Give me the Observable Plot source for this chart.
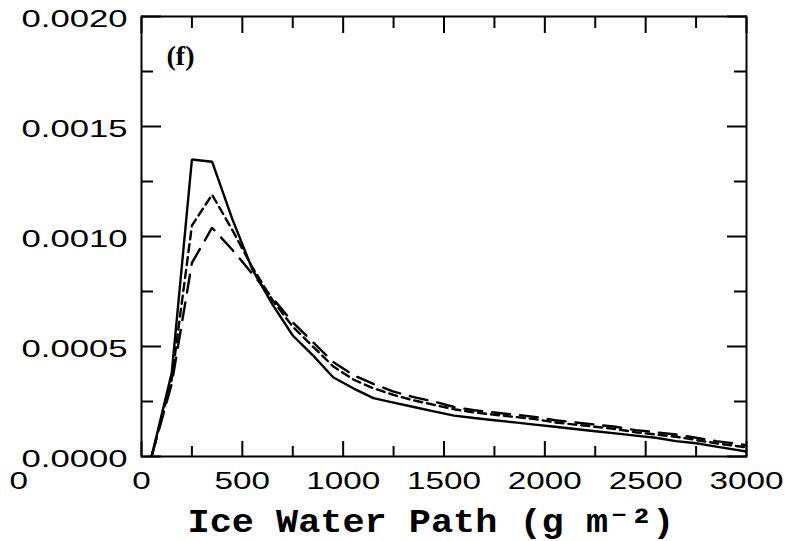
<!DOCTYPE html>
<html>
<head>
<meta charset="utf-8">
<script src="https://cdn.jsdelivr.net/npm/d3@7"></script>
<script src="https://cdn.jsdelivr.net/npm/@observablehq/plot@0.6"></script>
<style>
  html, body { margin: 0; padding: 0; background: #fff; }
</style>
</head>
<body>
<div id="chart"></div>
<script>
// Ice water path bin centres (g m^-2)
const iwp = [50, 150, 250, 350, 450, 550, 650, 750, 850, 950,
             1050, 1150, 1250, 1350, 1450, 1550, 1650, 1750, 1850, 1950,
             2050, 2150, 2250, 2350, 2450, 2550, 2650, 2750, 2850, 2950, 3050];

// Probability density for each case
const solidPdf = [0, 0.00038, 0.00135, 0.00134, 0.00108, 0.00085, 0.00069, 0.00055, 0.00046, 0.00036,
                  0.00031, 0.000265, 0.000245, 0.000225, 0.000205, 0.000186, 0.000175, 0.000165, 0.000155, 0.000145,
                  0.000135, 0.000125, 0.000115, 0.000105, 0.000095, 0.000085, 0.00007, 0.00006, 0.000045, 0.00003, 0.000015];
const shortDashPdf = [0, 0.00035, 0.00105, 0.00119, 0.00103, 0.00086, 0.00071, 0.00059, 0.0005, 0.00041,
                      0.00035, 0.00031, 0.00028, 0.000255, 0.000235, 0.000215, 0.0002, 0.00019, 0.00018, 0.00017,
                      0.000155, 0.000145, 0.000135, 0.000125, 0.00011, 0.0001, 0.00009, 0.000075, 0.00006, 0.000048, 0.000035];
const longDashPdf = [0, 0.00033, 0.00088, 0.00104, 0.00094, 0.00083, 0.00072, 0.00061, 0.00052, 0.00043,
                     0.00037, 0.00033, 0.000295, 0.00027, 0.00025, 0.000225, 0.00021, 0.0002, 0.00019, 0.00018,
                     0.000165, 0.000155, 0.000145, 0.000135, 0.00012, 0.00011, 0.0001, 0.000085, 0.00007, 0.000058, 0.000045];

// Tick positions
const xMajor = [0, 500, 1000, 1500, 2000, 2500, 3000];
const xMinor = [250, 750, 1250, 1750, 2250, 2750];
const yMajor = [0, 0.0005, 0.0010, 0.0015, 0.0020];
const yMinor = [0.00025, 0.00075, 0.00125, 0.00175];

const panelLabel = "(f)";
const xTitle = "Ice Water Path (g m⁻²)";

const series = [
  {values: solidPdf, dash: null},
  {values: shortDashPdf, dash: "8,5"},
  {values: longDashPdf, dash: "18,10"}
];

const lineMarks = series.map(s =>
  Plot.line(iwp.map((x, i) => ({x, y: s.values[i]})), {
    x: "x", y: "y", stroke: "black", strokeWidth: 2.4,
    strokeDasharray: s.dash, clip: true, strokeLinejoin: "miter"
  })
);

const tickFont = {fontFamily: "Liberation Sans, Arial, sans-serif", fontSize: 24};

const svg = Plot.plot({
  width: 793,
  height: 541,
  marginLeft: 141,
  marginRight: 47,
  marginTop: 16,
  marginBottom: 85,
  style: {background: "white", color: "black", overflow: "visible"},
  x: {domain: [0, 3000]},
  y: {domain: [0, 0.002]},
  marks: [
    ...lineMarks,
    // inward ticks on all four sides
    Plot.axisX(xMajor, {anchor: "bottom", tickSize: -15, tickFormat: () => "", label: null, strokeWidth: 2}),
    Plot.axisX(xMinor, {anchor: "bottom", tickSize: -10, tickFormat: () => "", label: null, strokeWidth: 2}),
    Plot.axisX(xMajor, {anchor: "top", tickSize: -16, tickFormat: () => "", label: null, strokeWidth: 2}),
    Plot.axisX(xMinor, {anchor: "top", tickSize: -11, tickFormat: () => "", label: null, strokeWidth: 2}),
    Plot.axisY(yMajor, {anchor: "left", tickSize: -20, tickFormat: () => "", label: null, strokeWidth: 2}),
    Plot.axisY(yMinor, {anchor: "left", tickSize: -12, tickFormat: () => "", label: null, strokeWidth: 2}),
    Plot.axisY(yMajor, {anchor: "right", tickSize: -20, tickFormat: () => "", label: null, strokeWidth: 2}),
    Plot.axisY(yMinor, {anchor: "right", tickSize: -13, tickFormat: () => "", label: null, strokeWidth: 2}),
    // tick labels
    Plot.axisX(xMajor, {anchor: "bottom", tickSize: 0, tickPadding: 15, tickFormat: d3.format("d"),
      label: null, ...tickFont}),
    Plot.axisY(yMajor, {anchor: "left", tickSize: 0, tickPadding: 14, tickFormat: d3.format(".4f"),
      label: null, dy: 3, ...tickFont}),
    Plot.text(["0"], {frameAnchor: "bottom-left", dx: -132, dy: 25, lineAnchor: "middle", ...tickFont}),
    Plot.frame({stroke: "black", strokeWidth: 2}),
    Plot.text([panelLabel], {frameAnchor: "top-left", textAnchor: "start", lineAnchor: "middle", dx: 25, dy: 40,
      fontFamily: "Liberation Serif, serif", fontWeight: "bold", fontSize: 27}),
    Plot.text([xTitle], {frameAnchor: "bottom", lineAnchor: "middle", dx: -13, dy: 65,
      fontFamily: "Liberation Mono, monospace", fontWeight: "bold", fontSize: 34})
  ]
});

// widen the glyphs of the labels to their printed width
svg.querySelectorAll("text").forEach(t => {
  const s = t.textContent.trim();
  let w = null;
  if (/^\d\.\d{4}$/.test(s)) w = 106;
  else if (/^\d+$/.test(s)) w = 18.5 * s.length;
  else if (s === xTitle) w = 487;
  else if (s === panelLabel) w = 28;
  if (w != null) {
    t.setAttribute("textLength", w);
    t.setAttribute("lengthAdjust", "spacingAndGlyphs");
  }
});

document.getElementById("chart").appendChild(svg);
</script>
</body>
</html>
